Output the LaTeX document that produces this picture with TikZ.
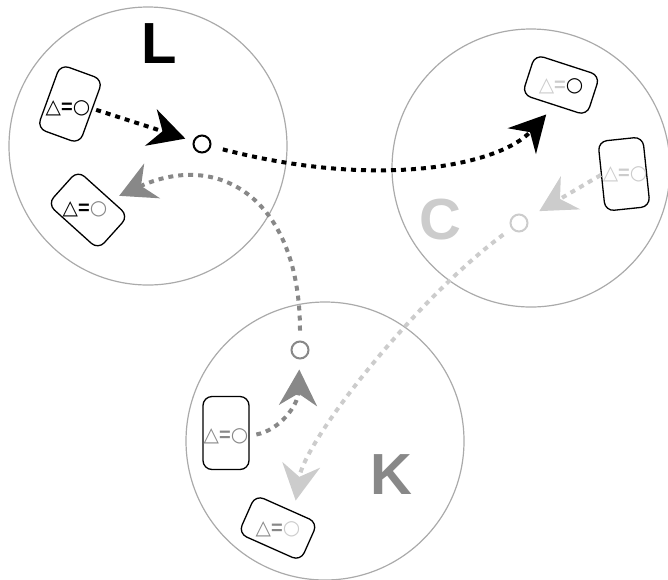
\documentclass[tikz,border=0pt]{standalone}
\usepackage{fontspec}
\newfontfamily\glyphfont{DejaVu Sans}
\newfontfamily\zonefont{Liberation Sans}
\usetikzlibrary{arrows.meta}
\definecolor{ringgray}{HTML}{AAAAAA}
\definecolor{midgray}{HTML}{888888}
\definecolor{palegray}{HTML}{CCCCCC}
\newcommand{\eqsign}{{\zonefont =}}
\tikzset{
  zone/.style={circle, draw=ringgray, line width=1.2pt, minimum size=278pt, inner sep=0pt},
  zonename/.style={font=\zonefont\bfseries\fontsize{58}{58}\selectfont, inner sep=0pt},
  card/.style={draw, rounded corners=9pt, line width=1.3pt, minimum width=45pt, minimum height=68pt, inner sep=0pt},
  eqn/.style={font=\glyphfont\bfseries\fontsize{20}{20}\selectfont, inner sep=0pt},
  hub/.style={circle, draw, line width=2pt, minimum size=17pt, inner sep=0pt},
  flow/.style={line width=4pt, dash pattern=on 5pt off 5pt, -{Stealth[length=36pt,width=38pt,inset=12pt]}}
}
\begin{document}
\begin{tikzpicture}[x=1pt, y=-1pt]
\useasboundingbox (0,0) rectangle (668,579);
% zones
\node [zone] (zoneL) at (148,146) {};
\node [zone] (zoneC) at (531,168) {};
\node [zone] (zoneK) at (325,441) {};
\node [zonename] (nameL) at (159,44) {L};
\node [zonename, palegray] (nameC) at (440,220) {C};
\node [zonename, midgray] (nameK) at (391,475) {K};
% cards
\node [card, rotate=-20] (cL1) at (70,104) {};
\node [card, minimum width=68pt, minimum height=45pt, rotate=-42] (cL2) at (88,210) {};
\node [card, minimum width=68pt, minimum height=42pt, rotate=-18] (cC1) at (561,85) {};
\node [card, minimum height=70pt, rotate=6] (cC2) at (624,174) {};
\node [card, minimum width=46pt, minimum height=73pt] (cK1) at (226,433) {};
\node [card, minimum width=68pt, minimum height=42pt, rotate=-24] (cK2) at (278,528) {};
\node [eqn] (tL1) at (68,108) {△\eqsign○};
\node [eqn] (tL2) at (85,209) {△\eqsign\textcolor{midgray}{○}};
\node [eqn] (tC1) at (561,86) {\textcolor{palegray}{△\eqsign}○};
\node [eqn, palegray] (tC2) at (625,174) {△\eqsign○};
\node [eqn, midgray] (tK1) at (226,436) {△\eqsign○};
\node [eqn, midgray] (tK2) at (278,529) {△\eqsign\textcolor{palegray}{○}};
% hubs
\node [hub] (hubL) at (202,144) {};
\node [hub, palegray] (hubC) at (519,223) {};
\node [hub, midgray] (hubK) at (300,350) {};
% flows
\draw [flow, shorten <=6pt, shorten >=8pt] (tL1.east) -- (hubL);
\draw [flow, shorten <=12pt, shorten >=12pt] (hubL) .. controls (380,190) and (500,165) .. (cC1.south);
\draw [flow, midgray, shorten <=10pt, shorten >=9pt] (hubK) .. controls (300,200) and (220,150) .. (cL2);
\draw [flow, midgray, shorten <=8pt, shorten >=10pt] (tK1.east) .. controls (280,430) and (298,405) .. (hubK);
\draw [flow, palegray, shorten <=2pt, shorten >=14pt] (tC2.west) -- (hubC);
\draw [flow, palegray, shorten <=10pt, shorten >=11pt] (hubC) .. controls (415,300) and (305,440) .. (cK2.70);
\end{tikzpicture}
\end{document}
